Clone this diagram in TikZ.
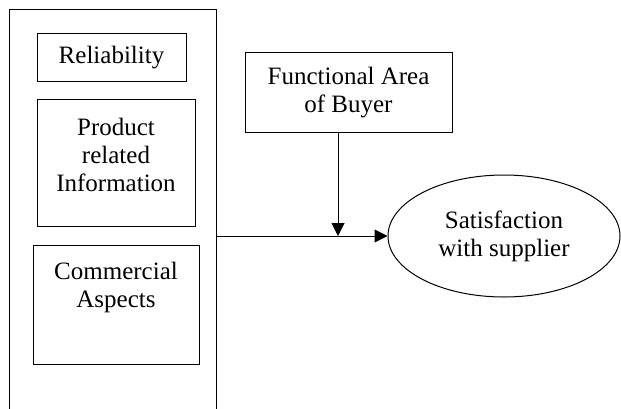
\documentclass[tikz,border=0pt]{standalone}
\usepackage{fontspec}
\setmainfont{Liberation Serif}
\usetikzlibrary{arrows.meta,shapes.geometric}

\tikzset{box/.style={draw, line width=1pt, align=center, inner sep=2pt, font=\fontsize{25}{28}\selectfont}}

\begin{document}
\begin{tikzpicture}[x=1pt, y=-1pt, line width=1pt, >={Triangle[length=13pt,width=13pt]}]
    \useasboundingbox (0,0) rectangle (621,409);
    \node[box, minimum width=207pt, minimum height=420pt] (outer) at (112.5,220) {};
    \node[box, minimum width=149pt, minimum height=48pt] (rel) at (111.5,58) {Reliability};
    \node[box, minimum width=158pt, minimum height=126pt] (prod) at (116,163) {Product\\related\\Information\\[-11pt]\mbox{}};
    \node[box, minimum width=166pt, minimum height=119pt] (comm) at (116,304.5) {Commercial\\Aspects\\[11pt]\mbox{}};
    \node[box, minimum width=207pt, minimum height=80pt] (func) at (348.5,93) {Functional Area\\of Buyer};
    \node[box, ellipse, inner sep=0pt, minimum width=232pt, minimum height=122pt] (sat) at (504,236) {Satisfaction\\with supplier};
    \coordinate (meet) at (338,236);
    \draw[->] (sat.west -| outer.east) -- (sat.west);
    \draw[->] (func.south -| meet) -- (meet);
\end{tikzpicture}
\end{document}
